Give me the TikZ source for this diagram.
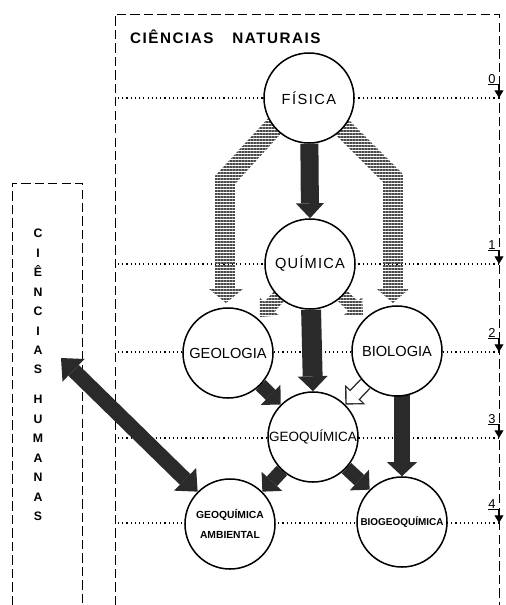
\documentclass[tikz,border=0pt]{standalone}
\usepackage{fontspec}
\setmainfont{Liberation Sans}
\usetikzlibrary{arrows.meta,patterns.meta,backgrounds}

\definecolor{ink}{HTML}{2A2A2A}
\definecolor{hatchgray}{HTML}{4A4A4A}

\tikzset{
  field/.style={circle, draw, line width=1.3pt, fill=white, minimum size=2.7cm, inner sep=0pt, align=center},
  fieldname/.style={font=\fontsize{12.5}{14}\selectfont},
  areabox/.style={line width=0.8pt, dash pattern=on 8pt off 3.5pt},
  levelline/.style={line width=0.9pt, dash pattern=on 1pt off 2.6pt},
  levelnum/.style={font=\fontsize{11}{12}\selectfont, inner sep=0.5pt},
  levelmark/.style={line width=1pt, -{Triangle[width=7.5pt, length=6.5pt]}},
  blockarrow/.style n args={3}{draw=ink, line width=#1, -{Triangle[width=#2, length=#3, line width=0pt]}},
  hollowarrow/.style={draw=white, line width=9.6pt, shorten >=1.7pt, -{Triangle[width=18.4pt, length=9.2pt, line width=0pt]}},
  twoway/.style={draw=ink, line width=12.8pt, {Triangle[width=27pt, length=15pt, line width=0pt]}-{Triangle[width=27pt, length=15pt, line width=0pt]}},
  hatched/.style={pattern={Lines[angle=0, distance=2.56pt, line width=1.45pt]}, pattern color=hatchgray}
}

\begin{document}
\begin{tikzpicture}[x=0.03cm, y=-0.03cm]
\useasboundingbox (0,0) rectangle (506,605);

% area titles
\node[anchor=west, font=\bfseries\fontsize{13}{15}\selectfont, inner sep=0pt] (nat) at (130,37)
  {\addfontfeature{LetterSpace=10}CIÊNCIAS\hspace{16pt}NATURAIS};
\node[anchor=north, align=center, inner sep=0pt, font=\bfseries\fontsize{10.5}{16.6}\selectfont] (hum) at (38,229)
  {C\\I\\Ê\\N\\C\\I\\A\\S\\[9pt]H\\U\\M\\A\\N\\A\\S};

% the fields
\node[field, fieldname] (fis) at (309,98) {\addfontfeature{LetterSpace=10}FÍSICA};
\node[field, fieldname] (qui) at (310,264) {\addfontfeature{LetterSpace=8}QUÍMICA};
\node[field, fieldname] (geo) at (228,353) {GEOLOGIA};
\node[field, fieldname] (bio) at (397,351) {BIOLOGIA};
\node[field, font=\fontsize{11.5}{13}\selectfont] (geoq) at (313,437) {GEOQUÍMICA};
\node[field, font=\fontsize{8.8}{17}\selectfont\bfseries] (amb) at (230,524) {GEOQUÍMICA\\AMBIENTAL};
\node[field, font=\fontsize{8.5}{10}\selectfont\bfseries] (biogeo) at (402,522) {BIOGEOQUÍMICA};

\coordinate (humtip) at (61,358);

\begin{pgfonlayer}{background}
% dashed areas
\draw[areabox] (115,605) |- (499,14) -- (499,605);
\draw[areabox] (12,605) |- (82,183) -- (82,605);

% levels 0 to 4
\foreach \lv/\yy in {0/98,1/264,2/352,3/438,4/523}{
  \node[levelnum] (lv\lv) at (492,\yy-19) {\lv};
  \coordinate (end\lv) at (499,\yy);
  \draw[levelline] (118,\yy) -- (end\lv);
  \draw[levelmark] (lv\lv.south west) -| (end\lv);
}

% hatched arrows
\fill[hatched] (273,113) -- (215,176) -- (215,289) -- (209,289) -- (226,303) -- (243,289)
  -- (235,289) -- (235,184) -- (287,127) -- cycle;
\fill[hatched] (342,113) -- (403,174) -- (403,289) -- (409,289) -- (393,303) -- (377,289)
  -- (383,289) -- (383,182) -- (328,127) -- cycle;
\fill[hatched] (260,317) -- (279.1,315.5) -- (274.7,311.4) -- (289.6,295.3) -- (279.2,285.8)
  -- (264.3,301.9) -- (259.9,297.9) -- cycle;
\fill[hatched] (363,316) -- (343.8,315.4) -- (348.1,311.1) -- (332.4,295.6) -- (342.2,285.6)
  -- (357.9,301.1) -- (362.2,296.8) -- cycle;

% solid arrows
\draw[blockarrow={15.4pt}{24pt}{12.8pt}] (fis) -- (qui.north);
\draw[blockarrow={17pt}{25.6pt}{12.8pt}] (qui) -- (geoq.north);
\draw[blockarrow={13.7pt}{25.6pt}{12pt}] (biogeo.north |- bio.center) -- (biogeo.north);
\draw[blockarrow={12pt}{24pt}{12pt}] (geo) -- (geoq.north west);
\draw[blockarrow={12pt}{24pt}{12pt}] (geoq) -- (amb.north east);
\draw[blockarrow={12pt}{24pt}{12pt}] (geoq) -- (biogeo.north west);
\draw[blockarrow={12pt}{24pt}{12pt}] (bio) -- (geoq.north east);
\draw[hollowarrow] (bio) -- (geoq.north east);
\draw[twoway] (humtip) -- (amb.north west);
\end{pgfonlayer}
\end{tikzpicture}
\end{document}
